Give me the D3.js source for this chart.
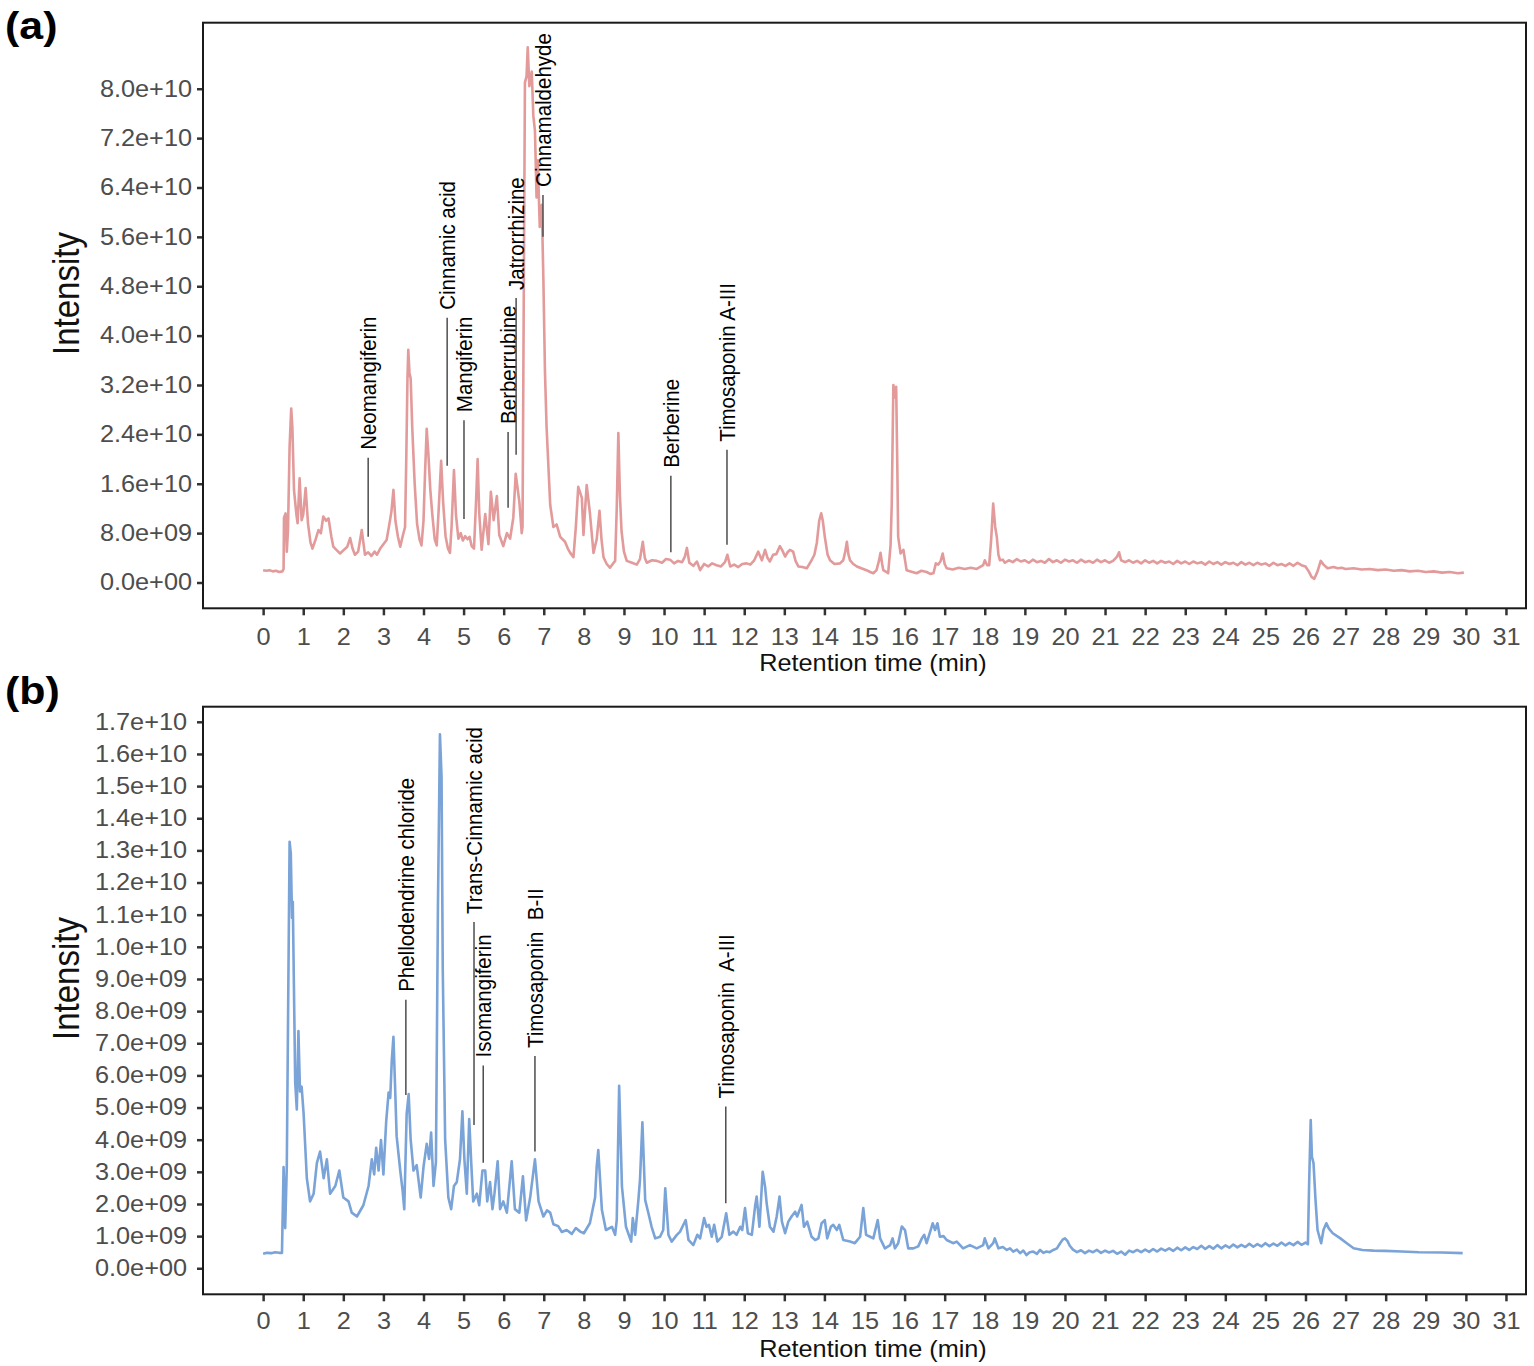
<!DOCTYPE html>
<meta charset="utf-8">
<title>Chromatograms</title>
<style>
body { margin: 0; background: #fff; }
svg text { font-family: "Liberation Sans", Arial, Helvetica, sans-serif; }
.tick text { fill: #4d4d4d; font-size: 23px; }
.tick line { stroke: #333; stroke-width: 2.5px; }
.frame { fill: none; stroke: #1a1a1a; stroke-width: 2px; }
.axis-title { fill: #111; }
.ann-line { stroke: #4d4d4d; stroke-width: 1.5px; }
.ann-text { font-size: 20.5px; fill: #000; white-space: pre; }
.trace { fill: none; stroke-width: 2.6px; stroke-linejoin: round; }
</style>
<svg width="1534" height="1366"></svg>
<script src="https://d3js.org/d3.v7.min.js"></script>
<script>

// retention time ticks (min)
var rtTicks = [0,1,2,3,4,5,6,7,8,9,10,11,12,13,14,15,16,17,18,19,20,21,22,23,24,25,26,27,28,29,30,31];
var intTicksA = [0, 8e9, 1.6e10, 2.4e10, 3.2e10, 4.0e10, 4.8e10, 5.6e10, 6.4e10, 7.2e10, 8.0e10];
var intTicksB = [0, 1e9, 2e9, 3e9, 4e9, 5e9, 6e9, 7e9, 8e9, 9e9, 1e10, 1.1e10, 1.2e10, 1.3e10, 1.4e10, 1.5e10, 1.6e10, 1.7e10];

// trace (a): [retention time, intensity in 1e9]
var chromA = [
  [0,2.0],[0.08,1.9],[0.16,2.0],[0.24,1.8],[0.32,1.9],[0.4,1.7],[0.48,1.8],[0.51,2.2],[0.52,10.5],[0.56,11.2],
  [0.59,5.0],[0.62,8.5],[0.66,22],[0.7,28.2],[0.73,25],[0.77,15],[0.83,11],[0.86,9.6],[0.91,16.9],[0.96,10.1],
  [1.0,11],[1.06,15.3],[1.12,9.5],[1.18,6.5],[1.23,5.5],[1.3,6.8],[1.38,8.5],[1.44,8.0],[1.5,10.7],[1.57,10.0],
  [1.63,10.4],[1.7,7.5],[1.75,5.8],[1.84,5.2],[1.92,4.7],[2.0,5.2],[2.1,5.8],[2.17,7.2],[2.23,5.5],[2.29,4.5],
  [2.37,5.0],[2.46,8.5],[2.5,6.5],[2.54,4.5],[2.62,4.9],[2.7,4.3],[2.78,5.0],[2.84,4.5],[2.92,5.5],[3.0,6.2],
  [3.08,6.9],[3.15,9.5],[3.2,11.5],[3.25,15.0],[3.3,10],[3.36,7.5],[3.42,5.8],[3.48,7.5],[3.54,9.0],[3.57,20],
  [3.6,33],[3.62,37.7],[3.65,34],[3.68,33],[3.72,25],[3.78,16],[3.84,9.5],[3.9,7],[3.95,6],[4.0,10],
  [4.04,18],[4.08,24.9],[4.12,21],[4.17,15],[4.22,11],[4.28,7],[4.33,6],[4.38,12],[4.44,19.7],[4.49,13],
  [4.55,7.5],[4.61,5.5],[4.66,4.8],[4.7,9],[4.76,18.2],[4.81,11],[4.87,7.1],[4.93,8.0],[4.98,6.8],[5.04,7.5],
  [5.1,7.0],[5.15,7.4],[5.2,5.9],[5.26,5.5],[5.31,13],[5.35,20],[5.39,11.3],[5.45,5.3],[5.54,11.1],[5.62,6.2],
  [5.68,14.7],[5.75,10.1],[5.83,14.0],[5.89,7.7],[5.99,5.9],[6.08,8.0],[6.16,7.1],[6.24,10.5],[6.3,17.6],[6.39,13.1],
  [6.45,8.0],[6.47,9],[6.5,45],[6.53,81],[6.57,82],[6.6,86.7],[6.64,80.4],[6.7,82.8],[6.74,75.6],[6.78,73.2],
  [6.82,62.4],[6.85,68.4],[6.9,57.6],[6.95,61.2],[6.99,49.2],[7.03,34.1],[7.07,25.2],[7.16,12.6],[7.24,9.0],[7.32,9.4],
  [7.41,7.4],[7.53,6.6],[7.6,5.5],[7.66,4.8],[7.74,4.1],[7.8,9],[7.86,15.5],[7.95,13.7],[7.99,7.7],[8.07,15.8],
  [8.15,11.3],[8.24,4.8],[8.32,7],[8.39,11.6],[8.44,7],[8.49,4.1],[8.57,3.0],[8.65,2.4],[8.72,3.0],[8.78,3.5],
  [8.82,12],[8.86,24.2],[8.9,14],[8.94,8.3],[9.0,5],[9.07,3.5],[9.2,3.2],[9.32,2.9],[9.4,3.8],[9.47,6.6],
  [9.52,4],[9.57,3.2],[9.7,3.6],[9.82,3.5],[9.95,3.2],[10.05,3.8],[10.15,3.7],[10.25,3.1],[10.35,3.5],[10.45,3.3],
  [10.52,4.2],[10.57,5.6],[10.63,3.2],[10.73,2.7],[10.82,3.4],[10.9,2.0],[11.0,3.0],[11.1,2.6],[11.2,3.1],[11.31,2.8],
  [11.42,2.6],[11.52,3.3],[11.58,4.5],[11.65,2.6],[11.75,2.9],[11.85,2.5],[11.95,3.0],[12.06,3.1],[12.15,2.9],[12.25,3.6],
  [12.35,5.0],[12.44,3.6],[12.52,5.3],[12.58,4.0],[12.64,3.4],[12.72,4.5],[12.8,4.6],[12.89,5.9],[12.95,5.2],[13.02,4.2],
  [13.08,4.9],[13.14,5.3],[13.22,5.0],[13.28,3.5],[13.35,2.6],[13.45,2.5],[13.56,2.3],[13.68,3.6],[13.75,4.5],[13.81,6.4],
  [13.87,10],[13.92,11.2],[13.96,10],[14.01,7.4],[14.08,4.5],[14.14,3.6],[14.25,3.0],[14.39,3.1],[14.47,3.6],[14.52,5],
  [14.56,6.6],[14.6,4.5],[14.64,3.6],[14.72,3.0],[14.81,2.6],[14.92,2.3],[15.05,2.0],[15.14,1.7],[15.22,1.5],[15.3,2.0],
  [15.36,3.5],[15.4,4.8],[15.44,3.0],[15.47,2.0],[15.55,1.7],[15.59,1.5],[15.65,6],[15.68,12.8],[15.72,32.0],[15.76,30],
  [15.79,31.7],[15.82,18],[15.84,7.4],[15.9,4.7],[15.97,5.3],[16.05,2.0],[16.15,1.8],[16.3,1.5],[16.42,1.9],[16.55,1.7],
  [16.64,1.4],[16.72,1.5],[16.78,3.1],[16.84,2.9],[16.9,3.5],[16.95,4.7],[17.0,3.0],[17.05,2.3],[17.2,2.1],[17.35,2.4],
  [17.5,2.2],[17.65,2.4],[17.8,2.2],[17.96,2.8],[18.0,3.6],[18.06,2.8],[18.11,2.8],[18.16,7],[18.21,12.8],[18.26,9],
  [18.3,7.4],[18.34,4.5],[18.38,3.6],[18.45,3.7],[18.5,3.2],[18.6,3.6],[18.7,3.3],[18.8,3.8],[18.9,3.4],[19.0,3.6],
  [19.1,3.2],[19.2,3.7],[19.3,3.3],[19.4,3.5],[19.5,3.2],[19.6,3.8],[19.7,3.3],[19.8,3.6],[19.9,3.2],[20.0,3.7],
  [20.1,3.4],[20.2,3.6],[20.3,3.2],[20.4,3.7],[20.5,3.3],[20.6,3.5],[20.7,3.2],[20.8,3.7],[20.9,3.3],[21.0,3.6],
  [21.1,3.2],[21.2,3.5],[21.3,4.2],[21.35,4.9],[21.4,3.6],[21.5,3.3],[21.6,3.6],[21.7,3.2],[21.8,3.5],[21.9,3.1],
  [22.0,3.6],[22.1,3.2],[22.2,3.5],[22.3,3.1],[22.4,3.5],[22.5,3.2],[22.6,3.4],[22.7,3.0],[22.8,3.5],[22.9,3.1],
  [23.0,3.4],[23.1,3.0],[23.2,3.4],[23.3,3.1],[23.4,3.3],[23.5,2.9],[23.6,3.4],[23.7,3.0],[23.8,3.3],[23.9,2.9],
  [24.0,3.3],[24.1,3.0],[24.2,3.2],[24.3,2.8],[24.4,3.3],[24.5,2.9],[24.6,3.2],[24.7,2.8],[24.8,3.2],[24.9,2.9],
  [25.0,3.1],[25.1,2.7],[25.2,3.2],[25.3,2.8],[25.4,3.0],[25.5,2.7],[25.6,3.1],[25.7,2.7],[25.8,3.2],[25.9,2.8],
  [26.0,2.6],[26.08,1.8],[26.15,0.9],[26.22,0.6],[26.3,1.8],[26.38,3.5],[26.45,2.9],[26.55,2.3],[26.7,2.5],[26.8,2.3],
  [26.9,2.4],[27.0,2.2],[27.2,2.3],[27.4,2.1],[27.6,2.2],[27.8,2.0],[28.0,2.1],[28.2,1.9],[28.4,2.0],[28.6,1.8],
  [28.8,1.9],[29.0,1.7],[29.2,1.8],[29.4,1.6],[29.6,1.7],[29.8,1.5],[29.95,1.6]
];

// trace (b): [retention time, intensity in 1e9]
var chromB = [
  [0,0.45],[0.1,0.48],[0.2,0.47],[0.3,0.5],[0.4,0.48],[0.47,0.48],[0.51,3.15],[0.55,1.25],[0.59,3.15],[0.63,9],
  [0.66,13.27],[0.69,12.9],[0.72,10.9],[0.74,11.4],[0.8,5.77],[0.84,4.94],[0.88,7.38],[0.92,5.5],[0.96,5.65],[1.01,4.8],
  [1.09,2.8],[1.17,2.08],[1.26,2.32],[1.34,3.27],[1.42,3.63],[1.51,2.8],[1.59,3.39],[1.67,2.32],[1.8,2.56],[1.9,3.04],
  [2.0,2.2],[2.13,2.08],[2.21,1.73],[2.34,1.61],[2.5,1.96],[2.63,2.56],[2.71,3.39],[2.77,2.92],[2.82,3.75],[2.88,3.04],
  [2.94,3.99],[3.0,2.92],[3.07,4.58],[3.13,5.47],[3.17,5.3],[3.21,6.49],[3.25,7.2],[3.29,5.7],[3.33,4.11],[3.42,3.04],
  [3.48,2.4],[3.52,1.84],[3.58,4.8],[3.63,5.42],[3.68,4.0],[3.75,3.04],[3.83,3.21],[3.93,2.2],[4.0,3.15],[4.08,3.87],
  [4.14,3.4],[4.19,4.22],[4.25,2.56],[4.31,3.3],[4.36,11.25],[4.41,16.61],[4.45,15.3],[4.48,9.34],[4.54,4.0],[4.62,2.2],
  [4.69,1.84],[4.76,2.56],[4.83,2.68],[4.91,3.39],[4.97,4.88],[5.02,3.39],[5.08,2.32],[5.14,4.64],[5.19,3.3],[5.24,2.08],
  [5.33,2.32],[5.39,1.96],[5.47,3.04],[5.54,3.04],[5.59,2.08],[5.66,2.68],[5.72,1.84],[5.77,2.32],[5.85,3.33],[5.91,1.84],
  [5.99,2.08],[6.08,1.73],[6.2,3.33],[6.28,1.84],[6.39,1.73],[6.48,2.86],[6.56,1.49],[6.66,2.2],[6.78,3.39],[6.87,2.08],
  [6.99,1.61],[7.08,1.8],[7.16,1.73],[7.24,1.37],[7.36,1.31],[7.45,1.13],[7.57,1.19],[7.7,1.07],[7.8,1.25],[7.91,1.14],
  [8.0,1.09],[8.15,1.4],[8.28,2.2],[8.32,3.16],[8.36,3.68],[8.45,1.81],[8.55,1.19],[8.7,1.29],[8.78,1.04],[8.82,1.5],
  [8.88,5.68],[8.95,2.54],[9.05,1.29],[9.18,0.83],[9.22,1.56],[9.28,1.04],[9.36,2.12],[9.4,2.75],[9.46,4.54],[9.53,2.12],
  [9.61,1.71],[9.69,1.29],[9.78,0.93],[9.9,0.98],[9.98,1.19],[10.03,2.49],[10.11,1.04],[10.19,0.83],[10.32,1.04],[10.4,1.14],
  [10.54,1.5],[10.61,0.88],[10.73,0.72],[10.83,1.04],[10.9,0.93],[11.0,1.56],[11.06,1.29],[11.12,1.35],[11.19,0.98],[11.25,1.35],
  [11.33,0.83],[11.44,0.98],[11.55,1.71],[11.63,1.04],[11.73,1.14],[11.81,1.04],[11.9,1.29],[11.95,1.19],[12.02,1.87],[12.09,1.09],
  [12.19,1.04],[12.27,1.92],[12.31,2.23],[12.38,1.29],[12.46,3.0],[12.52,2.54],[12.56,2.02],[12.64,1.29],[12.73,1.14],[12.81,1.61],
  [12.88,2.23],[12.94,1.45],[13.02,1.09],[13.1,1.45],[13.18,1.61],[13.27,1.76],[13.32,1.61],[13.43,1.97],[13.49,1.29],[13.57,1.45],
  [13.68,0.98],[13.77,0.88],[13.85,0.93],[13.93,1.4],[14.01,1.5],[14.07,0.93],[14.16,1.29],[14.22,1.35],[14.31,1.19],[14.37,1.35],
  [14.47,0.88],[14.64,0.83],[14.76,0.78],[14.89,0.98],[14.97,1.87],[15.04,1.04],[15.14,0.98],[15.22,0.93],[15.33,1.5],[15.39,0.93],
  [15.51,0.62],[15.64,0.72],[15.7,0.93],[15.76,0.62],[15.84,0.78],[15.93,1.3],[16.01,1.19],[16.09,0.62],[16.22,0.62],[16.34,0.68],
  [16.43,0.93],[16.49,1.04],[16.55,0.78],[16.65,1.19],[16.7,1.4],[16.76,1.19],[16.82,1.4],[16.88,0.98],[16.97,1.0],[17.05,0.88],
  [17.21,0.78],[17.3,0.83],[17.46,0.62],[17.63,0.72],[17.8,0.62],[17.96,0.72],[18.0,0.93],[18.09,0.62],[18.21,0.78],[18.25,0.93],
  [18.34,0.62],[18.45,0.66],[18.55,0.57],[18.63,0.62],[18.71,0.52],[18.8,0.58],[18.88,0.47],[18.96,0.55],[19.04,0.41],[19.12,0.5],
  [19.21,0.52],[19.3,0.45],[19.38,0.57],[19.46,0.48],[19.54,0.52],[19.62,0.5],[19.71,0.57],[19.8,0.62],[19.88,0.78],[19.95,0.9],
  [20.0,0.93],[20.06,0.85],[20.12,0.7],[20.2,0.58],[20.3,0.5],[20.4,0.56],[20.5,0.47],[20.6,0.55],[20.7,0.5],[20.8,0.57],
  [20.9,0.48],[21.0,0.55],[21.1,0.49],[21.2,0.54],[21.3,0.45],[21.4,0.52],[21.5,0.42],[21.6,0.55],[21.7,0.5],[21.8,0.57],
  [21.9,0.5],[22.0,0.58],[22.1,0.51],[22.2,0.6],[22.3,0.52],[22.4,0.61],[22.5,0.55],[22.6,0.62],[22.7,0.54],[22.8,0.64],
  [22.9,0.56],[23.0,0.65],[23.1,0.57],[23.2,0.66],[23.3,0.6],[23.4,0.7],[23.5,0.6],[23.6,0.69],[23.7,0.61],[23.8,0.72],
  [23.9,0.62],[24.0,0.71],[24.1,0.64],[24.2,0.74],[24.3,0.65],[24.4,0.73],[24.5,0.66],[24.6,0.76],[24.7,0.67],[24.8,0.75],
  [24.9,0.68],[25.0,0.78],[25.1,0.69],[25.2,0.77],[25.3,0.7],[25.4,0.8],[25.5,0.71],[25.6,0.79],[25.7,0.72],[25.8,0.82],
  [25.9,0.73],[26.0,0.8],[26.06,0.75],[26.09,2.6],[26.13,4.61],[26.16,3.47],[26.2,3.27],[26.25,2.12],[26.3,1.19],[26.39,0.78],
  [26.45,1.2],[26.52,1.4],[26.58,1.24],[26.68,1.09],[26.87,0.93],[27.03,0.78],[27.2,0.62],[27.42,0.57],[27.7,0.55],[27.98,0.54],
  [28.4,0.52],[28.83,0.5],[29.4,0.49],[29.92,0.47]
];

// labelled compounds: name, retention time, leader line top / bottom (intensity in 1e9)
var namesA = ["Neomangiferin", "Cinnamic acid", "Mangiferin", "Berberrubine", "Jatrorrhizine", "Cinnamaldehyde", "Berberine", "Timosaponin A-III"];
var timesA = [2.62, 4.59, 5.01, 6.11, 6.31, 6.98, 10.17, 11.57];
var lineTopA = [20.2, 42.9, 26.3, 24.4, 46.1, 62.8, 17.3, 21.5];
var lineEndA = [7.4, 18.9, 10.3, 12.1, 20.7, 56.0, 4.9, 6.1];

var namesB = ["Phellodendrine chloride", "Trans-Cinnamic acid", "Isomangiferin", "Timosaponin  B-II", "Timosaponin  A-III"];
var timesB = [3.56, 5.26, 5.49, 6.78, 11.54];
var lineTopB = [8.35, 10.77, 6.31, 6.6, 5.03];
var lineEndB = [5.39, 4.46, 3.28, 3.63, 2.02];

var sx = 1.1; // the figure is slightly wider than tall
var svg = d3.select("svg");

var x = d3.scaleLinear().domain([-1.5, 31.5]).range([203, 1526]);

function sci(d) {
  var p = d.toExponential(1).split("e");
  var e = +p[1];
  return p[0] + "e" + (e < 0 ? "-" : "+") + String(Math.abs(e)).padStart(2, "0");
}

var panels = [
  {tag: "(a)", tagY: 39, top: 22.7, bottom: 608.3, dom: [-4.18e9, 90.7e9], ticks: intTicksA, pad: 4, xpad: 13,
   data: chromA, color: "#e39a9a", names: namesA, times: timesA, tops: lineTopA, ends: lineEndA},
  {tag: "(b)", tagY: 704, top: 706.7, bottom: 1294.3, dom: [-0.81e9, 17.47e9], ticks: intTicksB, pad: 8.5, xpad: 11,
   data: chromB, color: "#7aa3d8", names: namesB, times: timesB, tops: lineTopB, ends: lineEndB}
];

panels.forEach(function(p) {
  var y = d3.scaleLinear().domain(p.dom).range([p.bottom, p.top]);
  var g = svg.append("g");

  // y axis
  var ya = g.append("g")
      .attr("transform", "translate(" + x.range()[0] + ",0)")
      .call(d3.axisLeft(y).tickValues(p.ticks).tickFormat(sci).tickSize(6).tickPadding(p.pad));
  ya.select(".domain").remove();
  ya.selectAll("text").attr("transform", "scale(" + sx + ",1)");

  // x axis
  var xa = g.append("g")
      .attr("transform", "translate(0," + p.bottom + ")")
      .call(d3.axisBottom(x).tickValues(rtTicks).tickSize(7).tickPadding(p.xpad));
  xa.select(".domain").remove();
  xa.selectAll("text").attr("transform", "scale(" + sx + ",1)");

  // trace
  var line = d3.line()
      .x(function(d) { return x(d[0]); })
      .y(function(d) { return y(d[1] * 1e9); });
  g.append("path")
      .datum(p.data)
      .attr("class", "trace")
      .attr("stroke", p.color)
      .attr("d", line);

  // frame
  g.append("rect")
      .attr("class", "frame")
      .attr("x", x.range()[0])
      .attr("y", p.top)
      .attr("width", x.range()[1] - x.range()[0])
      .attr("height", p.bottom - p.top);

  // peak labels
  p.names.forEach(function(name, i) {
    var lx = x(p.times[i]);
    g.append("line")
        .attr("class", "ann-line")
        .attr("x1", lx).attr("x2", lx)
        .attr("y1", y(p.tops[i] * 1e9)).attr("y2", y(p.ends[i] * 1e9));
    g.append("text")
        .attr("class", "ann-text")
        .attr("transform", "translate(" + lx + "," + (y(p.tops[i] * 1e9) - 8) + ") scale(" + sx + ",1) rotate(-90)")
        .attr("dy", "0.35em")
        .text(name);
  });

  // titles
  var mid = (p.top + p.bottom) / 2;
  g.append("text")
      .attr("class", "axis-title")
      .attr("transform", "translate(79," + (mid - 22) + ") scale(" + sx + ",1) rotate(-90)")
      .attr("text-anchor", "middle")
      .style("font-size", "33px")
      .text("Intensity");
  g.append("text")
      .attr("class", "axis-title")
      .attr("transform", "translate(873," + (p.bottom + 63) + ") scale(" + sx + ",1)")
      .attr("text-anchor", "middle")
      .style("font-size", "23px")
      .text("Retention time (min)");
  g.append("text")
      .attr("transform", "translate(5," + p.tagY + ") scale(" + sx + ",1)")
      .style("font-size", "39px")
      .style("font-weight", "bold")
      .text(p.tag);
});
</script>
